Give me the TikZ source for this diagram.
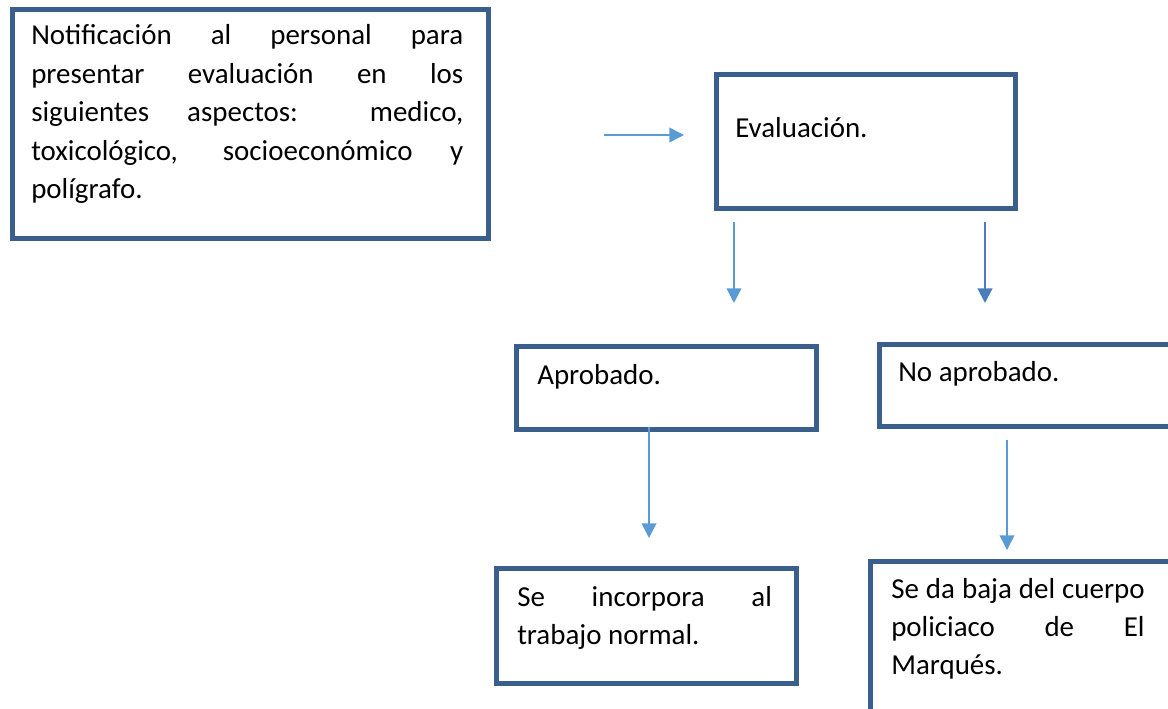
\documentclass[tikz,border=0pt]{standalone}
\usepackage{fontspec}
\setmainfont{Carlito}
\hyphenpenalty=10000
\exhyphenpenalty=10000
\tolerance=9999
\definecolor{boxblue}{RGB}{58,95,140}
\definecolor{arrowblue}{RGB}{91,155,213}
\definecolor{arrowdark}{RGB}{74,126,187}
\tikzset{
  box/.style={draw=boxblue, line width=3.75pt, anchor=north west, inner sep=0pt},
  txt/.style={anchor=base west, inner sep=0pt, align=justify, text=black,
    font=\fontsize{21.7pt}{28.8pt}\selectfont},
  flow/.style={draw=arrowblue, line width=1.2pt, -{Triangle[width=11pt,length=11pt]}}
}
\usetikzlibrary{arrows.meta}
\begin{document}
\begin{tikzpicture}[x=0.75pt,y=0.75pt,yscale=-1,xscale=1]
            \useasboundingbox (0,0) rectangle (1168,709);
            \clip (0,0) rectangle (1168,709);
            %Shape: Rectangle [notificacion]
            \node [box, minimum width=357pt, minimum height=171.75pt] (notif) at (10,7) {};
            %Shape: Rectangle [evaluacion]
            \node [box, minimum width=224.25pt, minimum height=100.5pt] (eval) at (714,72) {};
            %Shape: Rectangle [aprobado]
            \node [box, minimum width=225pt, minimum height=62.25pt] (aprob) at (514,344) {};
            %Shape: Rectangle [no aprobado]
            \node [box, minimum width=225pt, minimum height=61.5pt] (noaprob) at (877,342) {};
            %Shape: Rectangle [incorpora]
            \node [box, minimum width=225pt, minimum height=86.25pt] (incorp) at (494,566) {};
            %Shape: Rectangle [baja]
            \node [box, minimum width=226.5pt, minimum height=128.25pt] (baja) at (868,559) {};

            % Text Node
            \node [txt, text width=324pt] (notiftxt) at (31,45) {Notificación al personal para presentar evaluación en los siguientes aspectos: medico, toxicológico, socioeconómico y polígrafo.};
            % Text Node
            \node [txt] (evaltxt) at (735,138) {Evaluación.};
            % Text Node
            \node [txt] (aprobtxt) at (537,385) {Aprobado.};
            % Text Node
            \node [txt] (noaprobtxt) at (898,382) {No aprobado.};
            % Text Node
            \node [txt, text width=191pt] (incorptxt) at (517,606) {Se incorpora al trabajo normal.};
            % Text Node
            \node [txt, text width=190pt] (bajatxt) at (891,598) {Se da baja del cuerpo\linebreak policiaco de El\linebreak Marqués.};

            %Straight Lines [arrow ends]
            \coordinate (a1s) at (604,135);
            \coordinate (a1e) at (684,135);
            \coordinate (a2s) at (734,222);
            \coordinate (a2e) at (734,303);
            \coordinate (a3s) at (985,222);
            \coordinate (a3e) at (985,303);
            \coordinate (a4s) at (649,427);
            \coordinate (a4e) at (649,538);
            \coordinate (a5s) at (1007,440);
            \coordinate (a5e) at (1007,550);
            \draw [flow] (a1s) -- (a1e);
            \draw [flow] (a2s) -- (a2e);
            \draw [flow, draw=arrowdark, line width=1.6pt] (a3s) -- (a3e);
            \draw [flow] (a4s) -- (a4e);
            \draw [flow] (a5s) -- (a5e);
\end{tikzpicture}
\end{document}
